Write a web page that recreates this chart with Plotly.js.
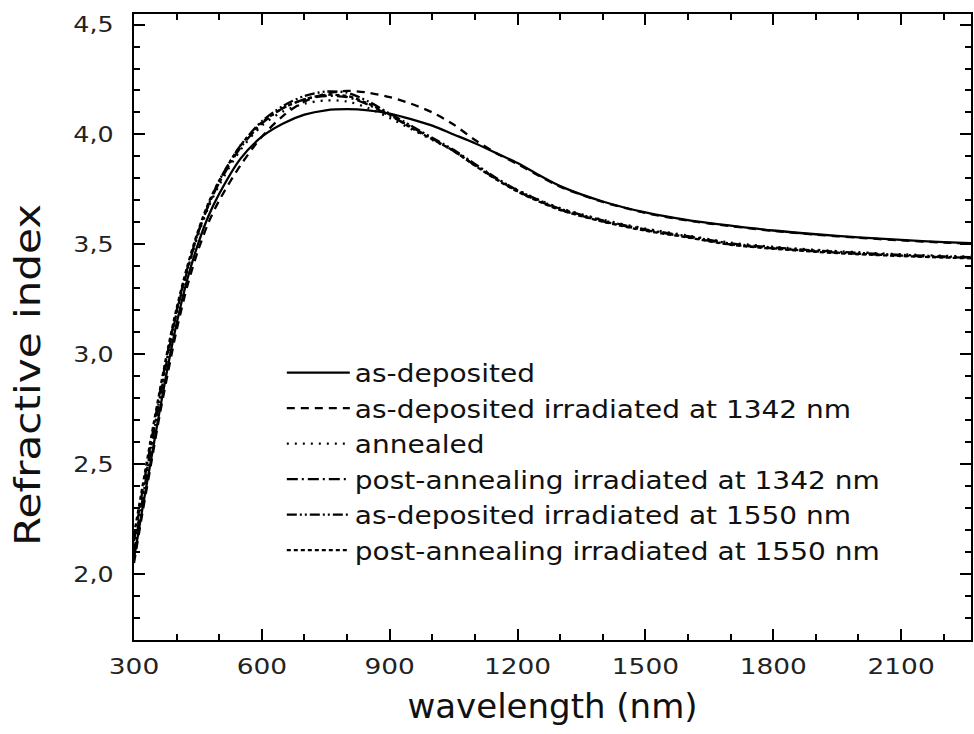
<!DOCTYPE html>
<html>
<head>
<meta charset="utf-8">
<script src="https://cdn.plot.ly/plotly-3.0.1.min.js"></script>
<style>html,body{margin:0;padding:0;background:#fff}#chart{width:974px;height:734px}</style>
</head>
<body>
<div id="chart"></div>
<script>
const wavelength = [300,320,340,360,380,400,425,450,475,500,550,600,650,700,750,800,850,900,950,1000,1050,1100,1150,1200,1250,1300,1400,1500,1600,1700,1800,1900,2000,2100,2200,2300];

const asDeposited   = [2.07,2.30,2.52,2.74,2.95,3.14,3.34,3.50,3.63,3.73,3.89,3.99,4.05,4.09,4.11,4.115,4.11,4.095,4.07,4.04,4.00,3.96,3.915,3.87,3.815,3.765,3.695,3.645,3.61,3.585,3.563,3.546,3.532,3.52,3.51,3.503];
const asDepIrr1342  = [2.05,2.28,2.50,2.72,2.92,3.11,3.31,3.47,3.60,3.70,3.86,3.99,4.085,4.15,4.185,4.198,4.19,4.17,4.14,4.10,4.045,3.975,3.915,3.865,3.812,3.762,3.693,3.643,3.608,3.583,3.561,3.544,3.53,3.518,3.508,3.501];
const annealed      = [2.12,2.36,2.58,2.80,3.00,3.19,3.38,3.54,3.67,3.77,3.93,4.04,4.105,4.14,4.155,4.15,4.12,4.075,4.025,3.975,3.925,3.862,3.80,3.748,3.703,3.665,3.612,3.572,3.54,3.508,3.489,3.475,3.464,3.455,3.448,3.442];
const postAnnIrr1342 = [2.15,2.38,2.60,2.82,3.02,3.20,3.39,3.55,3.68,3.78,3.94,4.05,4.12,4.16,4.175,4.17,4.135,4.085,4.035,3.98,3.925,3.86,3.797,3.742,3.697,3.658,3.605,3.565,3.533,3.5,3.482,3.468,3.457,3.449,3.442,3.437];
const asDepIrr1550  = [2.10,2.34,2.57,2.79,3.00,3.19,3.38,3.55,3.68,3.79,3.95,4.06,4.13,4.175,4.195,4.19,4.15,4.095,4.04,3.985,3.93,3.866,3.802,3.746,3.701,3.662,3.609,3.568,3.537,3.504,3.486,3.472,3.461,3.452,3.445,3.44];
const postAnnIrr1550 = [2.18,2.40,2.62,2.83,3.03,3.21,3.40,3.56,3.69,3.79,3.95,4.055,4.12,4.16,4.18,4.175,4.14,4.09,4.03,3.978,3.925,3.858,3.795,3.74,3.695,3.656,3.603,3.562,3.531,3.498,3.48,3.466,3.455,3.447,3.44,3.435];

const seriesNames = ["as-deposited","as-deposited irradiated at 1342 nm","annealed","post-annealing irradiated at 1342 nm","as-deposited irradiated at 1550 nm","post-annealing irradiated at 1550 nm"];
const seriesValues = [asDeposited, asDepIrr1342, annealed, postAnnIrr1342, asDepIrr1550, postAnnIrr1550];
const dashes = ["solid","8px,6px","2px,6px","11px,4px,2px,4px","10px,3px,2px,3px,2px,3px","4px,3px"];

const xTicks = [300,600,900,1200,1500,1800,2100];
const yTicks = [2.0,2.5,3.0,3.5,4.0,4.5];

const traces = seriesNames.map((n,i)=>({
  x: wavelength, y: seriesValues[i], name: n, type: 'scatter', mode: 'lines',
  line: {color: '#000', width: 2.3, dash: dashes[i], shape: 'spline', smoothing: 0.8},
  legendgroup: 'g'+i
}));

const FONT = 'DejaVu Sans, Arial, sans-serif';
const layout = {
  width: 974, height: 734,
  margin: {l: 134, r: 3, t: 14, b: 94},
  paper_bgcolor: '#fff', plot_bgcolor: '#fff',
  separators: ', ',
  font: {family: FONT, color: '#111'},
  showlegend: true,
  legend: {x: 0.1766, y: 0.4633, xanchor: 'left', yanchor: 'top', bgcolor: 'rgba(0,0,0,0)',
    font: {family: FONT, size: 25, color: '#111'}, itemwidth: 63, tracegroupgap: 0},
  xaxis: {
    range: [300, 2264], tickmode: 'array', tickvals: xTicks,
    ticks: 'inside', ticklen: 11, tickwidth: 2, tickcolor: '#000',
    minor: {ticks: 'inside', ticklen: 6, tickwidth: 2, dtick: 100, tick0: 300, tickcolor: '#000'},
    showline: true, linecolor: '#000', linewidth: 2, mirror: 'ticks',
    showgrid: false, zeroline: false,
    tickfont: {family: FONT, size: 22, color: '#222'}, ticklabelstandoff: 6,
    title: {text: 'wavelength (nm)', font: {family: FONT, size: 34, color: '#111'}, standoff: 16}
  },
  yaxis: {
    range: [1.70, 4.548], tickmode: 'array', tickvals: yTicks, tickformat: '.1f',
    ticks: 'inside', ticklen: 11, tickwidth: 2, tickcolor: '#000',
    minor: {ticks: 'inside', ticklen: 6, tickwidth: 2, dtick: 0.1, tick0: 2.0, tickcolor: '#000'},
    showline: true, linecolor: '#000', linewidth: 2, mirror: 'ticks',
    showgrid: false, zeroline: false,
    tickfont: {family: FONT, size: 22, color: '#222'}, ticklabelstandoff: 14
  },
  annotations: [{
    text: 'Refractive index', textangle: -90, showarrow: false,
    xref: 'paper', yref: 'paper', x: -0.128, y: 0.423, xanchor: 'center', yanchor: 'middle',
    font: {family: FONT, size: 36, color: '#111'}
  }]
};

function widen(selector, factor) {
  document.querySelectorAll(selector).forEach(t => {
    const L = t.getComputedTextLength();
    if (L > 0) {
      t.setAttribute('textLength', (L * factor).toFixed(1));
      t.setAttribute('lengthAdjust', 'spacingAndGlyphs');
    }
  });
}

Plotly.newPlot('chart', traces, layout, {staticPlot: true, displayModeBar: false}).then(() => {
  widen('.xtick text', 1.2);
  widen('.ytick text', 1.15);
  widen('.legendtext', 1.12);
  widen('.annotation-text', 1.17);
  document.querySelectorAll('.legend [clip-path]').forEach(e => e.removeAttribute('clip-path'));
});
</script>
</body>
</html>
